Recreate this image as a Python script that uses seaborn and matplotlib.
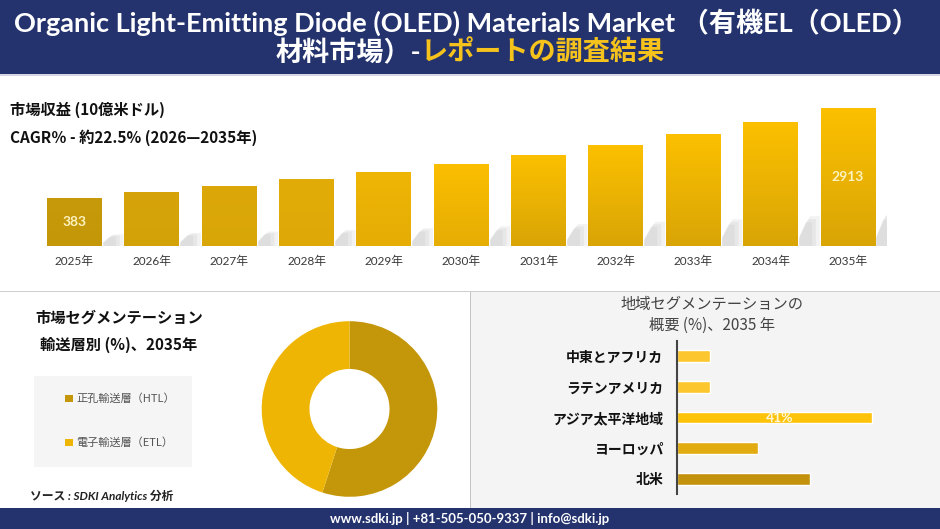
import numpy as np
import matplotlib
matplotlib.use('Agg')
import matplotlib.pyplot as plt
import seaborn as sns
from matplotlib.patches import Rectangle, Polygon
from matplotlib.colors import LinearSegmentedColormap

# --- data ---
years = ['2025年', '2026年', '2027年', '2028年', '2029年', '2030年',
         '2031年', '2032年', '2033年', '2034年', '2035年']
revenue = [383, 552, 722, 903, 1110, 1336, 1591, 1865, 2177, 2525, 2913]
revenue_labels = ['383', '', '', '', '', '', '', '', '', '', '2913']

layer_labels = ['正孔輸送層（HTL）', '電子輸送層（ETL）']
layer_share = [55, 45]

regions = ['中東とアフリカ', 'ラテンアメリカ', 'アジア太平洋地域', 'ヨーロッパ', '北米']
region_share = [7, 7, 41, 17, 28]
region_labels = ['', '', '41%', '', '']

# --- styles ---
NAVY = '#24336e'
GOLD_TXT = '#f6c21c'
bar_top = ['#c79a0c', '#d6a40a', '#dca809', '#e2ac08', '#efb605', '#fbbe00',
           '#fcc000', '#fcc000', '#fcc000', '#fcc000', '#fcc000']
bar_bottom = ['#c49709', '#d3a209', '#d9a608', '#dea907', '#e5ad05', '#e6ad04',
              '#d9a506', '#d9a506', '#d9a506', '#d9a506', '#d9a506']
layer_colors = ['#c4970b', '#efb505']
region_colors = ['#fcc62e', '#fcc62e', '#fdc30a', '#e2ab12', '#c2920c']

sns.set_theme(style='white')
plt.rcParams['font.family'] = ['Lato', 'Noto Sans CJK JP', 'DejaVu Sans']
CJK = ['Noto Sans CJK JP', 'DejaVu Sans']

W, H = 940, 529
fig = plt.figure(figsize=(9.4, 5.29), dpi=100)


def px_axes(x0, y0, x1, y1):
    # pixel box (origin top-left) -> figure axes
    return fig.add_axes([x0 / W, 1 - y1 / H, (x1 - x0) / W, (y1 - y0) / H])


# background canvas in pixel units
bg = px_axes(0, 0, W, H)
bg.set_xlim(0, W)
bg.set_ylim(H, 0)
bg.axis('off')

bg.add_patch(Rectangle((0, 0), W, 74, color=NAVY, lw=0))
bg.add_patch(Rectangle((0, 74), W, 1.5, color='#d5d8e4', lw=0))
bg.add_patch(Rectangle((471, 292), W - 471, 216, color='#f4f4f4', lw=0))
bg.add_patch(Rectangle((0, 290.5), W, 1.5, color='#cfcfcf', lw=0))
bg.add_patch(Rectangle((469.5, 292), 1.5, 216, color='#c4c4c4', lw=0))
bg.add_patch(Rectangle((0, 508), W, 21, color=NAVY, lw=0))

# header title
TS = 19.5
bg.text(466, 22, 'Organic Light-Emitting Diode (OLED) Materials Market （有機EL（OLED）',
        color='white', fontsize=TS, fontweight='bold', ha='center', va='center')
t_white = bg.text(0, 52, '材料市場）-', color='white', fontsize=TS,
                  fontweight='bold', ha='left', va='center')
t_gold = bg.annotate('レポートの調査結果', xy=(1, 0), xycoords=t_white,
                     color=GOLD_TXT, fontsize=TS, fontweight='bold',
                     ha='left', va='bottom')

# footer
bg.text(470, 518.5, 'www.sdki.jp | +81-505-050-9337 | info@sdki.jp', color='white',
        fontsize=9.5, fontweight='bold', ha='center', va='center')

# top panel texts
bg.text(10, 110, '市場収益 (10億米ドル)', fontsize=11, fontweight='bold',
        color='#111111', va='center', family=CJK)
bg.text(10, 138, 'CAGR％ - 約22.5% (2026—2035年)', fontsize=11, fontweight='bold',
        color='#111111', va='center', family=CJK)

# --- revenue bars ---
v0, vtop = -984, 3100
kpx = 0.03534
ax1 = px_axes(35.8, 246 - (vtop - v0) * kpx, 886.7, 246)
sns.barplot(x=years, y=revenue, hue=years, palette=bar_top, legend=False,
            width=0.71, saturation=1, ax=ax1)
grad = np.linspace(0, 1, 64).reshape(-1, 1)
for i, (p, v) in enumerate(zip(ax1.patches, revenue)):
    p.set_y(v0)
    p.set_height(v - v0)
    x, w = p.get_x(), p.get_width()
    xr = x + w
    s = 0.24 * (v - v0)
    # soft cast shadow to the right of each bar
    for k, a in enumerate([0.25, 0.3, 0.35]):
        d = 0.28 - 0.05 * k
        shadow = Polygon([(xr, v0), (xr, v0 + 0.2 * s), (xr + d * 0.55, v0 + s * (1 - 0.1 * k)),
                          (xr + d, v0 + s * (1 - 0.1 * k)), (xr + d, v0)],
                         closed=True, color='#cfcfcf', lw=0, zorder=0.5, alpha=a)
        ax1.add_patch(shadow)
    cmap = LinearSegmentedColormap.from_list('g', [bar_bottom[i], bar_top[i]])
    im = ax1.imshow(grad, extent=[x, xr, v0, v], origin='lower', aspect='auto',
                    cmap=cmap, zorder=p.get_zorder() + 0.1)
    im.set_clip_path(p)
    if revenue_labels[i]:
        ax1.text(x + w / 2, (v0 + v) / 2, revenue_labels[i], ha='center', va='center',
                 color='#fdf3c0', fontsize=10, fontweight='bold', zorder=10)
ax1.set_xlim(-0.5, len(years) - 0.5)
ax1.set_ylim(v0, vtop)
ax1.set_facecolor('none')
ax1.set_yticks([])
ax1.set_ylabel('')
sns.despine(ax=ax1, left=True, bottom=True)
ax1.tick_params(axis='x', length=0, pad=7, labelsize=8.5, labelcolor='#383838')

# --- transport layer donut ---
bg.text(119, 318, '市場セグメンテーション', fontsize=11, fontweight='bold',
        color='#111111', ha='center', va='center', family=CJK)
bg.text(119, 345, '輸送層別 (%)、2035年', fontsize=11, fontweight='bold',
        color='#111111', ha='center', va='center', family=CJK)
bg.add_patch(Rectangle((34, 376), 158, 91, color='#f5f5f5', lw=0))

cx, cy, r = 349.5, 409, 87.8
ax2 = px_axes(cx - r, cy - r, cx + r, cy + r)
wedges, _ = ax2.pie(layer_share, colors=layer_colors, startangle=90,
                    counterclock=False, radius=1,
                    wedgeprops=dict(width=0.544, edgecolor='none'))
ax2.set_xlim(-1, 1)
ax2.set_ylim(-1, 1)
ax2.set_aspect('equal')

bg.legend(wedges, layer_labels, loc='center left', bbox_to_anchor=(55, 421),
          bbox_transform=bg.transData, frameon=False,
          labelspacing=3.0, handlelength=0.7, handleheight=0.7,
          handletextpad=0.3, labelcolor='#555555', prop={'family': CJK, 'size': 8})

bg.text(30, 496, 'ソース : SDKI Analytics 分析', fontsize=8.5, style='italic',
        fontweight='bold', color='#222222', va='center')

# --- region bars ---
bg.text(712, 305, '地域セグメンテーションの', fontsize=11, color='#444444',
        ha='center', va='center', family=CJK)
bg.text(712, 325, '概要 (%)、2035 年', fontsize=11, color='#444444',
        ha='center', va='center', family=CJK)

xmax = 50
ax3 = px_axes(677, 341, 677 + xmax * 4.75, 494)
sns.barplot(x=region_share, y=regions, hue=regions, palette=region_colors,
            legend=False, width=0.38, saturation=1, orient='h', ax=ax3)
ax3.set_xlim(0, xmax)
ax3.set_ylim(len(regions) - 0.5, -0.5)
ax3.set_facecolor('none')
ax3.set_xticks([])
ax3.set_xlabel('')
ax3.set_ylabel('')
sns.despine(ax=ax3, bottom=True)
ax3.spines['left'].set_color('#444444')
ax3.spines['left'].set_linewidth(1.5)
ax3.tick_params(axis='y', length=0, pad=10)
for lbl in ax3.get_yticklabels():
    lbl.set_fontfamily(CJK)
    lbl.set_fontweight('bold')
    lbl.set_fontsize(10)
    lbl.set_color('#111111')
for i, v in enumerate(region_share):
    if region_labels[i]:
        ax3.text(v / 2 + 1.2, i, region_labels[i], ha='center', va='center',
                 color='#fff6d6', fontsize=10, fontweight='bold')

# center the two-colour second title line
fig.canvas.draw()
rend = fig.canvas.get_renderer()
w1 = t_white.get_window_extent(rend).width
w2 = t_gold.get_window_extent(rend).width
t_white.set_x(470 - (w1 + w2) / 2)

fig.savefig('out.png', dpi=100)
